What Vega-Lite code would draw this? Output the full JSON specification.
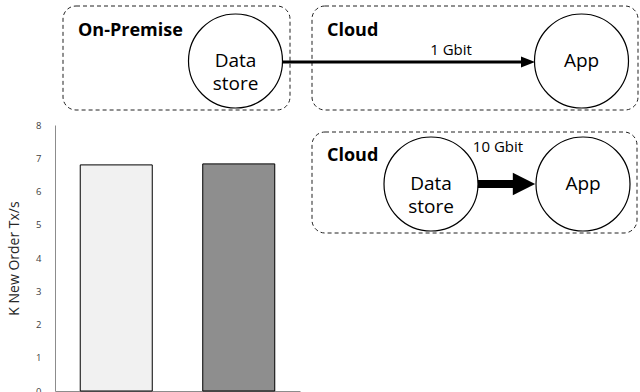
{
  "$schema": "https://vega.github.io/schema/vega-lite/v6.json",
  "width": 640,
  "height": 392,
  "padding": 0,
  "autosize": {"type": "none"},
  "background": "white",
  "config": {"view": {"stroke": null}, "font": "Open Sans"},
  "layer": [
    {
      "data": {"values": [
        {"setup": "On-Premise data store", "ktx": 6.80},
        {"setup": "Cloud data store", "ktx": 6.83}
      ]},
      "layer": [
        {
          "mark": {"type": "bar", "stroke": "black", "strokeWidth": 1},
          "encoding": {
            "x": {"field": "setup", "type": "nominal", "sort": null,
              "scale": {"range": [55, 300], "paddingInner": 0.412, "paddingOuter": 0.206},
              "axis": {"labels": false, "ticks": false, "title": null, "domainColor": "#8c8c8c", "domainWidth": 1, "offset": -1}},
            "y": {"field": "ktx", "type": "quantitative",
              "scale": {"domain": [0, 8], "range": [391, 125], "nice": false},
              "axis": {"values": [0,1,2,3,4,5,6,7,8], "grid": false, "ticks": false, "labelPadding": 14,
                "labelFontSize": 9.5, "labelColor": "#404040", "domainColor": "#8c8c8c", "offset": -55,
                "title": "K New Order Tx/s", "titleFontSize": 14, "titleFontWeight": "normal", "titleColor": "#262626", "titlePadding": 14}},
            "color": {"field": "setup", "type": "nominal", "legend": null,
              "scale": {"domain": ["On-Premise data store", "Cloud data store"], "range": ["#f1f1f1", "#8e8e8e"]}}
          }
        }
      ]
    },
    {
      "data": {"values": [
        {"box": "On-Premise", "left": 63, "right": 290, "top": 6, "bottom": 110},
        {"box": "Cloud", "left": 312, "right": 638, "top": 6, "bottom": 110},
        {"box": "Cloud (all)", "left": 312, "right": 637, "top": 132, "bottom": 233}
      ]},
      "mark": {"type": "rect", "fill": null, "fillOpacity": 0, "stroke": "#222", "strokeWidth": 1, "strokeDash": [4, 3], "cornerRadius": 13},
      "encoding": {
        "x": {"field": "left", "type": "quantitative", "scale": {"domain": [0, 640], "range": [0, 640], "nice": false, "zero": false}, "axis": null},
        "x2": {"field": "right"},
        "y": {"field": "top", "type": "quantitative", "scale": {"domain": [0, 392], "range": [0, 392], "nice": false, "zero": false}, "axis": null},
        "y2": {"field": "bottom"}
      }
    },
    {
      "data": {"values": [
        {"link": "1 Gbit", "from": 283, "to": 526, "at": 62}
      ]},
      "mark": {"type": "rule", "stroke": "black", "strokeWidth": 3},
      "encoding": {
        "x": {"field": "from", "type": "quantitative", "scale": {"domain": [0, 640], "range": [0, 640], "nice": false, "zero": false}, "axis": null},
        "x2": {"field": "to"},
        "y": {"field": "at", "type": "quantitative", "scale": {"domain": [0, 392], "range": [0, 392], "nice": false, "zero": false}, "axis": null}
      }
    },
    {
      "data": {"values": [
        {"link": "10 Gbit", "from": 477, "to": 515, "at": 184}
      ]},
      "mark": {"type": "rule", "stroke": "black", "strokeWidth": 8},
      "encoding": {
        "x": {"field": "from", "type": "quantitative", "scale": {"domain": [0, 640], "range": [0, 640], "nice": false, "zero": false}, "axis": null},
        "x2": {"field": "to"},
        "y": {"field": "at", "type": "quantitative", "scale": {"domain": [0, 392], "range": [0, 392], "nice": false, "zero": false}, "axis": null}
      }
    },
    {
      "data": {"values": [
        {"link": "1 Gbit", "tip": 528, "at": 62}
      ]},
      "mark": {"type": "point", "shape": "M1,0L-1,-0.8L-1,0.8Z", "size": 196, "filled": true, "color": "black", "opacity": 1, "strokeWidth": 0},
      "encoding": {
        "x": {"field": "tip", "type": "quantitative", "scale": {"domain": [0, 640], "range": [0, 640], "nice": false, "zero": false}, "axis": null},
        "y": {"field": "at", "type": "quantitative", "scale": {"domain": [0, 392], "range": [0, 392], "nice": false, "zero": false}, "axis": null}
      }
    },
    {
      "data": {"values": [
        {"link": "10 Gbit", "tip": 524, "at": 184}
      ]},
      "mark": {"type": "point", "shape": "M1,0L-1,-1L-1,1Z", "size": 500, "filled": true, "color": "black", "opacity": 1, "strokeWidth": 0},
      "encoding": {
        "x": {"field": "tip", "type": "quantitative", "scale": {"domain": [0, 640], "range": [0, 640], "nice": false, "zero": false}, "axis": null},
        "y": {"field": "at", "type": "quantitative", "scale": {"domain": [0, 392], "range": [0, 392], "nice": false, "zero": false}, "axis": null}
      }
    },
    {
      "data": {"values": [
        {"node": "Data\nstore", "cx": 235.5, "cy": 61},
        {"node": "App", "cx": 581.5, "cy": 61},
        {"node": "Data\nstore", "cx": 431, "cy": 184},
        {"node": "App", "cx": 583, "cy": 184}
      ]},
      "layer": [
        {
          "mark": {"type": "point", "shape": "circle", "size": 8836, "filled": true, "fill": "white", "fillOpacity": 1, "stroke": "black", "strokeWidth": 1.2, "opacity": 1},
          "encoding": {
            "x": {"field": "cx", "type": "quantitative", "scale": {"domain": [0, 640], "range": [0, 640], "nice": false, "zero": false}, "axis": null},
            "y": {"field": "cy", "type": "quantitative", "scale": {"domain": [0, 392], "range": [0, 392], "nice": false, "zero": false}, "axis": null}
          }
        },
        {
          "mark": {"type": "text", "fontSize": 19, "color": "black", "align": "center", "baseline": "middle", "lineBreak": "\n", "lineHeight": 23},
          "encoding": {
            "x": {"field": "cx", "type": "quantitative", "scale": {"domain": [0, 640], "range": [0, 640], "nice": false, "zero": false}, "axis": null},
            "y": {"field": "cy", "type": "quantitative", "scale": {"domain": [0, 392], "range": [0, 392], "nice": false, "zero": false}, "axis": null},
            "text": {"field": "node"}
          }
        }
      ]
    },
    {
      "data": {"values": [
        {"label": "On-Premise", "lx": 78, "ly": 31},
        {"label": "Cloud", "lx": 327, "ly": 31},
        {"label": "Cloud", "lx": 327, "ly": 156}
      ]},
      "mark": {"type": "text", "fontSize": 18, "fontWeight": "bold", "color": "black", "align": "left", "baseline": "middle"},
      "encoding": {
        "x": {"field": "lx", "type": "quantitative", "scale": {"domain": [0, 640], "range": [0, 640], "nice": false, "zero": false}, "axis": null},
        "y": {"field": "ly", "type": "quantitative", "scale": {"domain": [0, 392], "range": [0, 392], "nice": false, "zero": false}, "axis": null},
        "text": {"field": "label"}
      }
    },
    {
      "data": {"values": [
        {"label": "1 Gbit", "lx": 451, "ly": 50},
        {"label": "10 Gbit", "lx": 498, "ly": 147}
      ]},
      "mark": {"type": "text", "fontSize": 15, "color": "black", "align": "center", "baseline": "middle"},
      "encoding": {
        "x": {"field": "lx", "type": "quantitative", "scale": {"domain": [0, 640], "range": [0, 640], "nice": false, "zero": false}, "axis": null},
        "y": {"field": "ly", "type": "quantitative", "scale": {"domain": [0, 392], "range": [0, 392], "nice": false, "zero": false}, "axis": null},
        "text": {"field": "label"}
      }
    }
  ],
  "resolve": {"scale": {"x": "independent", "y": "independent"}, "axis": {"x": "independent", "y": "independent"}}
}
